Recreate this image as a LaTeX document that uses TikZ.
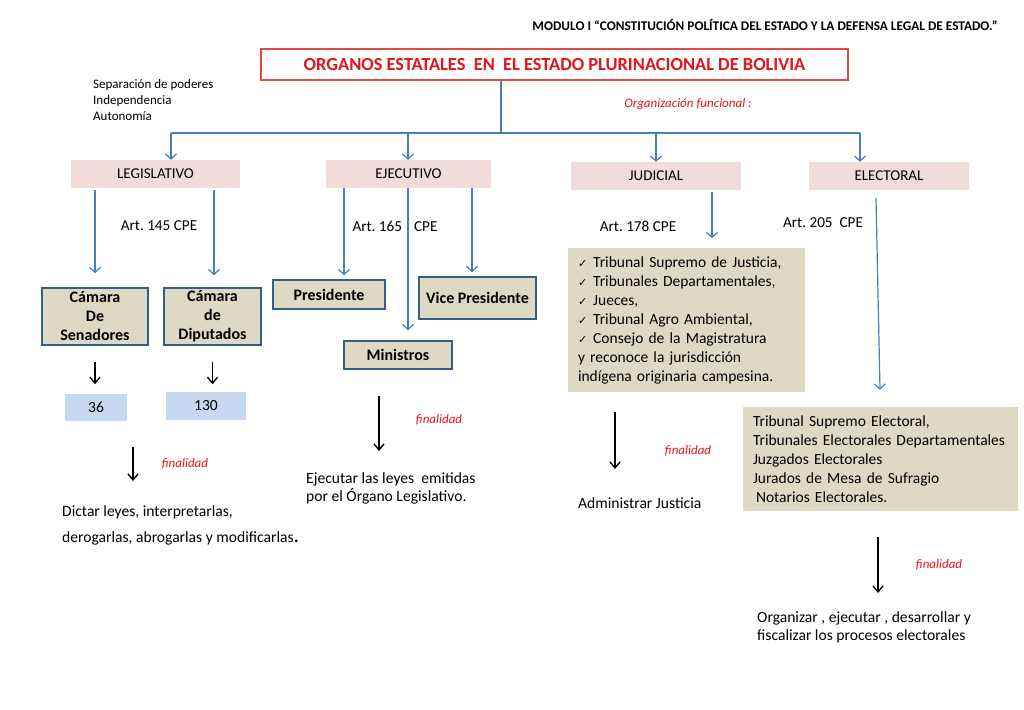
\documentclass[tikz,border=0pt]{standalone}
\usepackage{fontspec}
\setmainfont{Carlito}
\newfontfamily\dejavu{DejaVu Sans}
\usetikzlibrary{arrows.meta}
\definecolor{pinkc}{HTML}{F2DCDB}
\definecolor{tanc}{HTML}{DDD9C3}
\definecolor{bluec}{HTML}{C6D9F1}
\definecolor{arrowc}{HTML}{4A7EBB}
\definecolor{bordc}{HTML}{385D8A}
\definecolor{redc}{HTML}{E3151E}
\definecolor{titlec}{HTML}{E04848}
\newcommand\chk{{\dejavu\fontsize{11}{11}\selectfont ✓}\hspace{6pt}}
\frenchspacing
\begin{document}
\begin{tikzpicture}[x=1pt,y=-1pt,
  organ/.style={fill=pinkc, inner sep=0, font=\fontsize{15}{17}\selectfont},
  member/.style={draw=bordc, line width=2.5pt, fill=tanc, inner sep=0, align=center, font=\bfseries\fontsize{16}{19}\selectfont},
  numbox/.style={fill=bluec, inner sep=0, font=\fontsize{15.5}{17}\selectfont},
  listbox/.style={fill=tanc, inner xsep=10pt, inner ysep=0pt, align=left, font=\fontsize{15.5}{19}\selectfont},
  barrow/.style={draw=arrowc, line width=1.2pt, -{Straight Barb[length=5pt,width=11pt]}},
  karrow/.style={draw=black, line width=1.4pt, -{Straight Barb[length=6pt,width=10pt]}},
  fin/.style={text=redc, inner sep=0, font=\itshape\fontsize{13}{15}\selectfont},
  body/.style={inner sep=0, align=left, font=\fontsize{15.6}{18}\selectfont},
  artlbl/.style={inner sep=0, font=\fontsize{15.2}{17}\selectfont}]
\useasboundingbox[fill=white] (0,0) rectangle (1024,709);

% header and title
\node[inner sep=0, font=\bfseries\fontsize{13.3}{15}\selectfont] (head) at (765,25) {MODULO I “CONSTITUCIÓN POLÍTICA DEL ESTADO Y LA DEFENSA LEGAL DE ESTADO.”};
\node[draw=titlec, line width=1.2pt, minimum width=587, minimum height=31, inner sep=0, text=redc, font=\bfseries\fontsize{18.4}{21}\selectfont] (title) at (554.5,64.5) {ORGANOS ESTATALES\ \ EN\ \ EL ESTADO PLURINACIONAL DE BOLIVIA};
\node[anchor=west, inner sep=0, align=left, font=\fontsize{13}{16}\selectfont] (princ) at (93,100) {Separación de poderes\\Independencia\\Autonomía};
\node[fin] (orgf) at (688,104) {Organización funcional :};

% organs
\node[organ, minimum width=169, minimum height=28] (leg) at (155.5,174) {LEGISLATIVO};
\node[organ, minimum width=165, minimum height=28] (eje) at (408.5,174) {EJECUTIVO};
\node[organ, minimum width=170, minimum height=28] (jud) at (656,176) {JUDICIAL};
\node[organ, minimum width=160, minimum height=28] (ele) at (889,176) {ELECTORAL};

% tree connectors
\coordinate (hub) at (501,133);
\coordinate (h1) at (171,133);
\coordinate (h2) at (408,133);
\coordinate (h3) at (656,133);
\coordinate (h4) at (860,133);
\draw[arrowc, line width=1.2pt] (hub |- title.south) -- (hub);
\draw[arrowc, line width=1.2pt] (h1) -- (h4);
\draw[barrow] (h1) -- (h1 |- leg.north);
\draw[barrow] (h2) -- (h2 |- eje.north);
\draw[barrow] (h3) -- (h3 |- jud.north);
\draw[barrow] (h4) -- (h4 |- ele.north);

% legislativo
\node[member, minimum width=106, minimum height=57] (sen) at (95,316.5) {Cámara\\De\\Senadores};
\node[member, minimum width=97, minimum height=57] (dip) at (212.5,316.5) {Cámara\\de\\Diputados};
\node[artlbl] (a145) at (159,226) {Art. 145 CPE};
\draw[barrow] ([xshift=-60.5pt,yshift=-2pt]leg.south) -- ++(0,83);
\draw[barrow] ([xshift=58.5pt,yshift=-2pt]leg.south) -- ++(0,85);
\node[numbox, minimum width=62, minimum height=27] (n36) at (96,407.5) {36};
\node[numbox, minimum width=80, minimum height=28] (n130) at (206,406) {130};
\draw[karrow] ([yshift=-16pt]sen.south) -- ++(0,22);
\draw[karrow] ([yshift=-16pt]dip.south) -- ++(0,22);
\coordinate (f1a) at (133,447);
\coordinate (f1b) at (133,481);
\draw[karrow] (f1a) -- (f1b);
\node[fin] (fin1) at (185,464) {finalidad};
\node[body, anchor=west] (dict1) at (62,512) {Dictar leyes, interpretarlas,};
\node[body, anchor=west] (dict2) at (62,538) {derogarlas, abrogarlas y modificarlas{\fontsize{22}{22}\selectfont.}};

% ejecutivo
\node[member, minimum width=112, minimum height=29] (pres) at (329,294.5) {Presidente};
\node[member, minimum width=117, minimum height=42] (vice) at (477.5,298) {Vice Presidente};
\node[member, minimum width=108, minimum height=28] (mini) at (398,355) {Ministros};
\node[artlbl] (a165) at (395,226) {Art. 165\hspace{12pt}CPE};
\draw[barrow] ([xshift=-64.5pt]eje.south) -- ++(0,87);
\draw[barrow] ([xshift=-0.5pt]eje.south) -- ++(0,142);
\draw[barrow] ([xshift=63.5pt]eje.south) -- ++(0,84);
\coordinate (f2a) at (379,396);
\coordinate (f2b) at (379,451);
\draw[karrow] (f2a) -- (f2b);
\node[fin] (fin2) at (439,420) {finalidad};
\node[body, anchor=west] (ejec) at (306,488) {Ejecutar las leyes\ \ emitidas\\por el Órgano Legislativo.};

% judicial
\node[artlbl] (a178) at (638,226) {Art. 178 CPE};
\node[listbox, minimum width=237, minimum height=144, text width=217] (jbox) at (686.5,320) {\chk Tribunal Supremo de Justicia,\\ \chk Tribunales Departamentales,\\ \chk Jueces,\\ \chk Tribunal Agro Ambiental,\\ \chk Consejo de la Magistratura\\ y reconoce la jurisdicción\\ indígena originaria campesina.};
\draw[barrow] ([xshift=56pt,yshift=-2pt]jud.south) -- ++(0,46);
\coordinate (f3a) at (615,412);
\coordinate (f3b) at (615,469);
\draw[karrow] (f3a) -- (f3b);
\node[fin] (fin3) at (688,451) {finalidad};
\node[body, anchor=west] (admj) at (578,503) {Administrar Justicia};

% electoral
\node[artlbl] (a205) at (823,223) {Art. 205\ \ CPE};
\node[listbox, minimum width=275, minimum height=104, text width=255] (ebox) at (880.5,459) {Tribunal Supremo Electoral,\\ Tribunales Electorales Departamentales\\ Juzgados Electorales\\ Jurados de Mesa de Sufragio\\ \hspace*{3pt}Notarios Electorales.};
\draw[barrow] ([xshift=-13pt,yshift=-8pt]ele.south) -- ([xshift=-0.5pt,yshift=17pt]ebox.north);
\coordinate (f4a) at (878,537);
\coordinate (f4b) at (878,593);
\draw[karrow] (f4a) -- (f4b);
\node[fin] (fin4) at (939,565) {finalidad};
\node[body, anchor=west] (orgz) at (757,627.5) {Organizar , ejecutar , desarrollar y\\fiscalizar los procesos electorales};
\end{tikzpicture}
\end{document}
